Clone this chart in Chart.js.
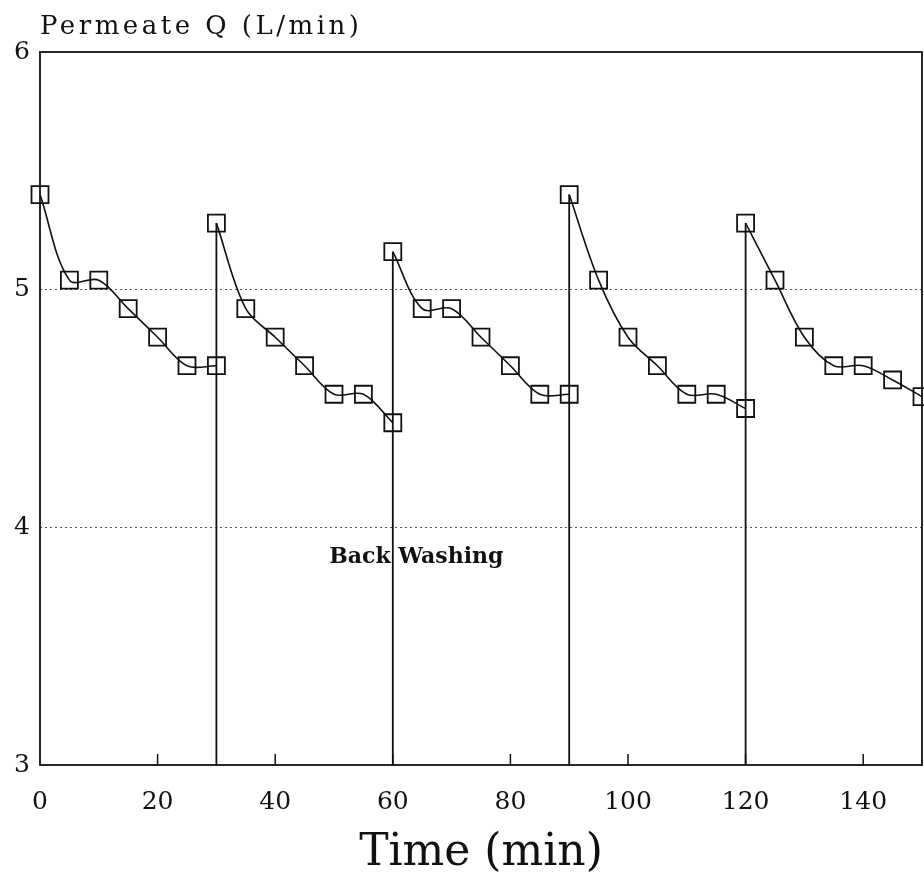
<!DOCTYPE html>
<html>
<head>
<meta charset="utf-8">
<script src="https://cdn.jsdelivr.net/npm/chart.js@4/dist/chart.umd.min.js"></script>
<style>
  html, body { margin: 0; padding: 0; background: #fff; }
  #wrap { width: 924px; height: 884px; }
</style>
</head>
<body>
<div id="wrap"><canvas id="fluxChart" width="924" height="884"></canvas></div>
<script>
// permeate flow (L/min), one array per filtration cycle, readings every 5 min
const cycleStarts = [0, 30, 60, 90, 120];
const cycle1 = [5.40, 5.04, 5.04, 4.92, 4.80, 4.68, 4.68];
const cycle2 = [5.28, 4.92, 4.80, 4.68, 4.56, 4.56, 4.44];
const cycle3 = [5.16, 4.92, 4.92, 4.80, 4.68, 4.56, 4.56];
const cycle4 = [5.40, 5.04, 4.80, 4.68, 4.56, 4.56, 4.50];
const cycle5 = [5.28, 5.04, 4.80, 4.68, 4.68, 4.62, 4.55];
const sampleStep = 5;
const backwashTimes = [30, 60, 90, 120];
const xTickValues = [0, 20, 40, 60, 80, 100, 120, 140];
const yTickValues = [3, 4, 5, 6];

const cycles = [cycle1, cycle2, cycle3, cycle4, cycle5];
const SERIF = '"DejaVu Serif", "Liberation Serif", serif';

const cycleDatasets = cycles.map((vals, c) => ({
  data: vals.map((v, i) => ({ x: cycleStarts[c] + i * sampleStep, y: v })),
  borderColor: '#111',
  borderWidth: 1.6,
  tension: 0.35,
  clip: 14,
  pointStyle: 'rect',
  pointRadius: 12,
  pointBorderWidth: 1.8,
  pointBorderColor: '#111',
  pointBackgroundColor: 'rgba(255,255,255,0)',
  showLine: true
}));

// vertical drop to zero flow during back washing, then jump to the next cycle start
const backwashDatasets = backwashTimes.map((t, k) => ({
  data: [{ x: t, y: 3 }, { x: t, y: cycles[k + 1][0] }],
  borderColor: '#111',
  borderWidth: 1.8,
  pointRadius: 0,
  tension: 0,
  showLine: true
}));

const framePlugin = {
  id: 'frame',
  afterDatasetsDraw(chart) {
    const { ctx, chartArea: a, scales } = chart;
    ctx.save();
    ctx.strokeStyle = '#111';
    ctx.lineWidth = 1.8;
    ctx.strokeRect(a.left, a.top, a.right - a.left, a.bottom - a.top);
    // inward tick marks on the time axis
    ctx.lineWidth = 1.5;
    xTickValues.forEach(v => {
      if (v === 0) return;
      const px = scales.x.getPixelForValue(v);
      ctx.beginPath();
      ctx.moveTo(px, a.bottom);
      ctx.lineTo(px, a.bottom - 11);
      ctx.stroke();
    });
    ctx.fillStyle = '#111';
    ctx.textBaseline = 'alphabetic';
    ctx.textAlign = 'left';
    ctx.font = '26px ' + SERIF;
    ctx.letterSpacing = '3.5px';
    ctx.fillText('Permeate Q (L/min)', 40, 34);
    ctx.letterSpacing = '0px';
    ctx.textAlign = 'center';
    ctx.font = 'bold 22px ' + SERIF;
    ctx.fillText('Back Washing', scales.x.getPixelForValue(64), scales.y.getPixelForValue(3.85));
    ctx.restore();
  }
};

new Chart(document.getElementById('fluxChart'), {
  type: 'scatter',
  data: { datasets: [...cycleDatasets, ...backwashDatasets] },
  plugins: [framePlugin],
  options: {
    responsive: false,
    animation: false,
    layout: { autoPadding: false, padding: { top: 52, right: 2, left: 0, bottom: 0 } },
    plugins: { legend: { display: false }, tooltip: { enabled: false } },
    scales: {
      x: {
        type: 'linear',
        min: 0,
        max: 150,
        afterBuildTicks: s => { s.ticks = xTickValues.map(v => ({ value: v })); },
        afterFit: s => { s.height = 119; s.paddingLeft = 0; s.paddingRight = 0; },
        grid: { display: false, drawTicks: false },
        border: { display: false },
        ticks: { color: '#111', font: { family: SERIF, size: 25 }, padding: 22, maxRotation: 0 },
        title: { display: true, text: 'Time (min)', color: '#111', font: { family: SERIF, size: 44 }, padding: { top: 4 } }
      },
      y: {
        min: 3,
        max: 6,
        afterBuildTicks: s => { s.ticks = yTickValues.map(v => ({ value: v })); },
        afterFit: s => { s.width = 40; },
        grid: {
          color: ctx => (ctx.tick && (ctx.tick.value === 4 || ctx.tick.value === 5)) ? '#555' : 'rgba(0,0,0,0)',
          lineWidth: 1,
          tickLength: 0,
          drawTicks: false
        },
        border: { display: false, dash: [2, 3] },
        ticks: { color: '#111', font: { family: SERIF, size: 25 }, padding: 10 }
      }
    }
  }
});
</script>
</body>
</html>
